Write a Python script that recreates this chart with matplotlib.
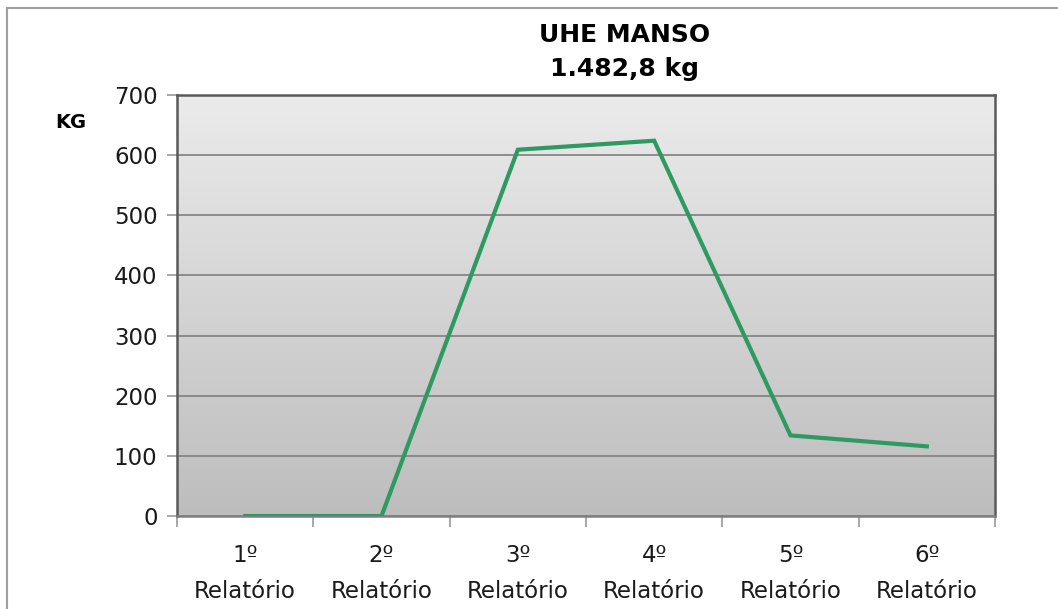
import numpy as np
import matplotlib
matplotlib.use("Agg")
import matplotlib.pyplot as plt
from matplotlib.colors import LinearSegmentedColormap
from matplotlib.lines import Line2D

# dados
categorias = ["1º\nRelatório", "2º\nRelatório", "3º\nRelatório",
              "4º\nRelatório", "5º\nRelatório", "6º\nRelatório"]
valores_kg = [0, 0, 609, 624, 134, 115.8]
titulo = "UHE MANSO\n1.482,8 kg"

plt.rcParams['font.family'] = ['DejaVu Sans']

fig = plt.figure(figsize=(10.58, 6.09), dpi=100)
ax = fig.add_axes([177/1058, 1 - 516/609, (995 - 177)/1058, (516 - 95)/609])

# fundo em degradê
cmap = LinearSegmentedColormap.from_list("fundo", ["#ebebeb", "#bdbdbd"])
grad = np.linspace(0, 1, 256).reshape(-1, 1)
ax.imshow(grad, cmap=cmap, aspect="auto", extent=[0, 1, 0, 1],
          transform=ax.transAxes, zorder=0)

x = np.arange(len(categorias))
ax.plot(x, valores_kg, color="#2e9a62", lw=3, zorder=3, solid_joinstyle="miter")

ax.set_xlim(-0.5, len(categorias) - 0.5)
ax.set_ylim(0, 700)
ax.set_yticks(range(0, 701, 100))
ax.yaxis.grid(True, color="#7f7f7f", lw=1.2)
ax.set_axisbelow(True)
for gl in ax.get_ygridlines():
    gl.set_zorder(1)

ax.set_xticks(x)
ax.set_xticklabels(categorias, linespacing=1.75, color="#1a1a1a")
ax.set_xticks(np.arange(-0.5, len(categorias)), minor=True)
ax.tick_params(axis="x", which="major", length=0, pad=20, labelsize=16.5)
ax.tick_params(axis="x", which="minor", length=8, color="#999999", width=1.2)
ax.tick_params(axis="y", length=7, color="#999999", width=1.2, labelsize=16.5,
               pad=7, labelcolor="#1a1a1a")

for s in ["top", "left", "right"]:
    ax.spines[s].set_color("#5a5a5a")
    ax.spines[s].set_linewidth(1.8)
ax.spines["bottom"].set_color("#808080")
ax.spines["bottom"].set_linewidth(1.8)

fig.text(625/1058, 1 - 52/609, titulo, ha="center", va="center",
         fontsize=18, fontweight="bold", linespacing=1.55)
fig.text(71/1058, 1 - 123/609, "KG", ha="center", va="center",
         fontsize=14, fontweight="bold")

# borda externa
fig.add_artist(Line2D([7/1058, 1], [1 - 8/609, 1 - 8/609], color="#a0a0a0",
                      lw=1.5, transform=fig.transFigure))
fig.add_artist(Line2D([7/1058, 7/1058], [0, 1 - 8/609], color="#a0a0a0",
                      lw=1.5, transform=fig.transFigure))

fig.savefig("out.png", dpi=100)
